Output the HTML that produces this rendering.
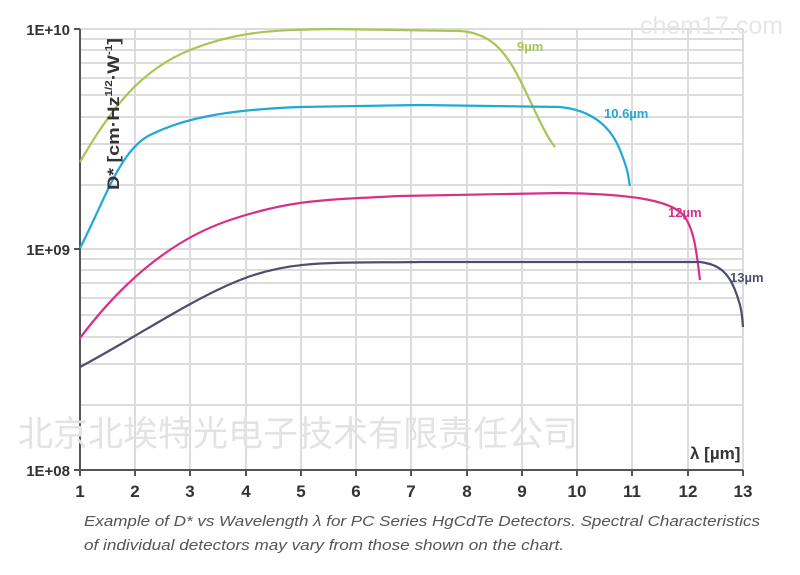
<!DOCTYPE html>
<html><head><meta charset="utf-8"><style>
body{margin:0;background:#fff;}
svg{display:block;}
</style></head><body>
<svg width="800" height="575" xmlns="http://www.w3.org/2000/svg">
<g stroke="#dcdcdc" stroke-width="2" fill="none">
<path d="M80 29H743M80 39H743M80 50H743M80 63H743M80 78H743M80 95H743M80 117H743M80 144H743M80 185H743M80 249H743M80 259H743M80 270H743M80 283H743M80 298H743M80 315H743M80 337H743M80 364H743M80 405H743"/>
<path d="M135 29V470M190 29V470M246 29V470M301 29V470M356 29V470M411 29V470M467 29V470M522 29V470M577 29V470M632 29V470M688 29V470M743 29V470"/>
</g>
<g stroke="#555" stroke-width="2" fill="none">
<path d="M80 29V470H743"/>
<path d="M74 29H80M74 249H80M74 470H80"/>
<path d="M80 470v6M135 470v6M190 470v6M246 470v6M301 470v6M356 470v6M411 470v6M467 470v6M522 470v6M577 470v6M632 470v6M688 470v6M743 470v6"/>
</g>
<text x="640" y="34" font-family="Liberation Sans,sans-serif" font-size="25" fill="#e6e6e6">chem17.com</text>
<text x="18" y="446" font-family="Liberation Sans,'Noto Sans CJK SC',sans-serif" font-size="35" fill="#e3e3e3">北京北埃特光电子技术有限责任公司</text>
<g fill="none" stroke-width="2.2">
<path stroke="#a7c653" d="M80 162C110 110 140 70 190 50S280 30 330 29L460 31C490 33 505 50 520 80S545 135 555 147"/>
<path stroke="#1fa9d7" d="M80 248C105 200 120 150 150 135S220 110 300 107L420 105 560 107C590 110 610 125 620 150S628 178 630 186"/>
<path stroke="#d6308a" d="M80 338C120 285 170 240 230 220S320 200 400 196L560 193C630 194 665 200 680 212S697 258 700 280"/>
<path stroke="#4d4e6e" d="M80 367C140 335 190 300 240 280S330 263 420 262L700 262C718 264 728 272 735 290S742 315 743 327"/>
</g>
<g font-family="Liberation Sans,sans-serif" font-weight="bold" font-size="13">
<text x="517" y="51" fill="#a7c653">9µm</text>
<text x="604" y="118" fill="#1fa9d7">10.6µm</text>
<text x="668" y="217" fill="#d6308a">12µm</text>
<text x="730" y="282" fill="#4d4e6e">13µm</text>
</g>
<g font-family="Liberation Sans,sans-serif" font-weight="bold" font-size="15" fill="#333">
<text x="70" y="35" text-anchor="end">1E+10</text>
<text x="70" y="255" text-anchor="end">1E+09</text>
<text x="70" y="476" text-anchor="end">1E+08</text>
<text x="690" y="459" font-size="17">λ [µm]</text>
<g text-anchor="middle" font-size="17">
<text x="80" y="497">1</text><text x="135" y="497">2</text><text x="190" y="497">3</text><text x="246" y="497">4</text><text x="301" y="497">5</text><text x="356" y="497">6</text><text x="411" y="497">7</text><text x="467" y="497">8</text><text x="522" y="497">9</text><text x="577" y="497">10</text><text x="632" y="497">11</text><text x="688" y="497">12</text><text x="743" y="497">13</text>
</g>
<text transform="translate(119,190) rotate(-90)" font-size="17" textLength="152" lengthAdjust="spacingAndGlyphs">D* [cm·Hz<tspan font-size="10" dy="-7">1/2</tspan><tspan dy="7">·W</tspan><tspan font-size="10" dy="-7">-1</tspan><tspan dy="7">]</tspan></text>
</g>
<g font-family="Liberation Sans,sans-serif" font-style="italic" font-size="15" fill="#555">
<text x="84" y="526" textLength="676" lengthAdjust="spacingAndGlyphs">Example of D* vs Wavelength λ for PC Series HgCdTe Detectors. Spectral Characteristics</text>
<text x="84" y="550" textLength="480" lengthAdjust="spacingAndGlyphs">of individual detectors may vary from those shown on the chart.</text>
</g>
</svg>
</body></html>
